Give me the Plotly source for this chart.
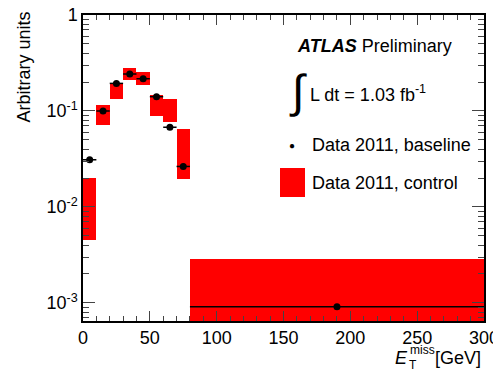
import plotly.graph_objects as go

# ---- data ----
bin_lo = [0, 10, 20, 30, 40, 50, 60, 70, 80]
bin_hi = [10, 20, 30, 40, 50, 60, 70, 80, 300]
baseline = [0.031, 0.100, 0.194, 0.243, 0.217, 0.141, 0.0677, 0.0264, 0.00091]
baseline_x = [5, 15, 25, 35, 45, 55, 65, 75, 190]
control_low = [0.00453, 0.0715, 0.134, 0.209, 0.187, 0.0887, 0.0768, 0.0196, 0.0003]
control_high = [0.0199, 0.1146, 0.19, 0.279, 0.253, 0.147, 0.132, 0.0645, 0.00283]

x_tickvals = [0, 50, 100, 150, 200, 250, 300]
y_tickvals = [0.001, 0.01, 0.1, 1]
y_ticktext = ["10<sup>-3</sup>", "10<sup>-2</sup>", "10<sup>-1</sup>", "1"]

FONT = "Liberation Sans, Arial, Helvetica, sans-serif"
OFF = 8  # page body margin
W, H = 501 - OFF, 378 - OFF
L, R, T = 83 - OFF, 17, 15 - OFF
B = H - (321 - OFF)

def px(x):
    return (x - OFF - L) / (W - L - R)

def py(y):
    return (H - B - (y - OFF)) / (H - T - B)

centers = [(a + b) / 2 for a, b in zip(bin_lo, bin_hi)]
widths = [b - a for a, b in zip(bin_lo, bin_hi)]
heights = [h - l for h, l in zip(control_high, control_low)]
err_minus = [x - a for x, a in zip(baseline_x, bin_lo)]
err_plus = [b - x for x, b in zip(baseline_x, bin_hi)]

fig = go.Figure()
fig.add_trace(go.Bar(
    x=centers, y=heights, base=control_low, width=widths,
    marker=dict(color="#ff0000", line=dict(width=0)),
    showlegend=False, hoverinfo="skip",
))
fig.add_trace(go.Scatter(
    x=baseline_x, y=baseline, mode="markers",
    marker=dict(color="black", size=7),
    error_x=dict(type="data", symmetric=False, array=err_plus, arrayminus=err_minus,
                 color="black", thickness=1.5, width=0),
    showlegend=False,
))

minor_y = [m * 10 ** e for e in range(-4, 1) for m in range(2, 10)]
minor_y = [v for v in minor_y if 6.5e-4 <= v <= 1]

fig.update_layout(
    width=W, height=H,
    margin=dict(l=L, r=R, t=T, b=B),
    paper_bgcolor="white", plot_bgcolor="white",
    font=dict(family=FONT, size=18, color="black"),
    bargap=0,
    xaxis=dict(
        range=[0, 300], tickvals=x_tickvals, ticks="inside", ticklen=10, tickwidth=1,
        showline=True, linecolor="black", linewidth=1.5, mirror="ticks",
        showgrid=False, zeroline=False, automargin=False, ticklabeloverflow="allow",
        minor=dict(dtick=10, ticks="inside", ticklen=5, tickwidth=1, showgrid=False),
        tickfont=dict(size=18),
    ),
    yaxis=dict(
        type="log", range=[-3.19, 0.001], tickvals=y_tickvals, ticktext=y_ticktext,
        ticks="inside", ticklen=12, tickwidth=1,
        showline=True, linecolor="black", linewidth=1.5, mirror="ticks",
        showgrid=False, zeroline=False, automargin=False, ticklabeloverflow="allow",
        minor=dict(tickvals=minor_y, ticks="inside", ticklen=6, tickwidth=1, showgrid=False),
        tickfont=dict(size=18),
    ),
)

annotations = [
    dict(text="Arbitrary units", x=px(23), y=py(10), textangle=-90,
         xanchor="center", yanchor="top", font=dict(size=18)),
    dict(text="<b><i>ATLAS</i></b> Preliminary", x=px(374), y=py(46)),
    dict(text="\u222b", x=px(298), y=py(91), font=dict(size=46)),
    dict(text="L dt = 1.03 fb<sup>-1</sup>", x=px(368), y=py(94)),
    dict(text="\u25cf", x=px(292), y=py(145), font=dict(size=10)),
    dict(text="Data 2011, baseline", x=px(391), y=py(145)),
    dict(text="Data 2011, control", x=px(385), y=py(183)),
    dict(text="<i>E</i>", x=px(401), y=py(358), font=dict(size=18)),
    dict(text="T", x=px(407), y=py(365), font=dict(size=12), xanchor="left"),
    dict(text="miss", x=px(408), y=py(350), font=dict(size=12), xanchor="left"),
    dict(text="[GeV]", x=px(458), y=py(358), font=dict(size=18)),
]
for a in annotations:
    a.setdefault("xref", "paper")
    a.setdefault("yref", "paper")
    a.setdefault("showarrow", False)
    a.setdefault("xanchor", "center")
    a.setdefault("yanchor", "middle")
fig.update_layout(annotations=annotations)

fig.add_shape(type="rect", xref="paper", yref="paper",
              x0=px(280), x1=px(305), y0=py(197), y1=py(168),
              fillcolor="#ff0000", line=dict(width=0))

fig.write_html("out.html")
